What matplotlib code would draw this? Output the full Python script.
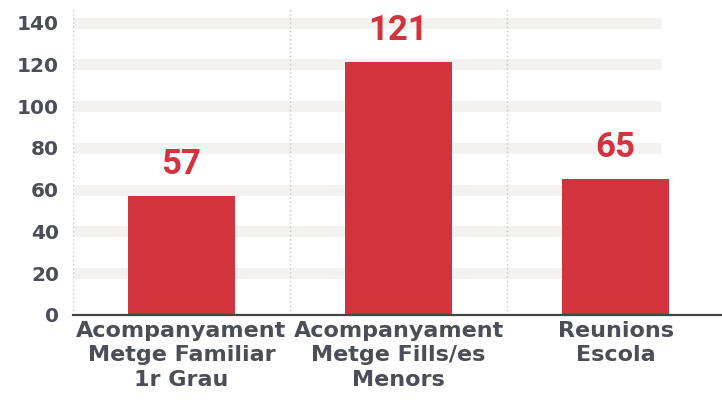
import matplotlib
matplotlib.use("Agg")
import matplotlib.pyplot as plt

# data
categories = ["Acompanyament\nMetge Familiar\n1r Grau",
              "Acompanyament\nMetge Fills/es\nMenors",
              "Reunions\nEscola"]
values = [57, 121, 65]
y_ticks = [0, 20, 40, 60, 80, 100, 120, 140]

BAR_COLOR = "#d1343d"
TEXT_COLOR = "#4b4e56"
BAND_COLOR = "#f3f2f0"

fig = plt.figure(figsize=(7.22, 4.0), dpi=100)
ax = fig.add_axes([0.101, 0.2125, 0.899, 0.765])

x = list(range(len(categories)))

# thick light bands as grid
for t in y_ticks[1:]:
    ax.hlines(t, -0.5, 2.21, color=BAND_COLOR, lw=8, zorder=0)

# dotted separators between categories
for b in [-0.5, 0.5, 1.5]:
    ax.axvline(b, color="#c4c4c4", lw=1, ls=(0, (1, 2)), zorder=1)

ax.bar(x, values, width=0.49, color=BAR_COLOR, zorder=2)

for xi, v in zip(x, values):
    ax.annotate(f"{v}", (xi, v), xytext=(0, 11), textcoords="offset points",
                ha="center", va="bottom", fontsize=25, fontweight="bold",
                color=BAR_COLOR, family="Roboto")

ax.set_xlim(-0.5, 2.49)
ax.set_ylim(0, 146.5)
ax.set_yticks(y_ticks)
ax.set_xticks(x)
ax.set_xticklabels(categories, linespacing=1.3)

for s in ["top", "right", "left"]:
    ax.spines[s].set_visible(False)
ax.spines["bottom"].set_color("#444444")
ax.spines["bottom"].set_linewidth(1.6)
ax.spines["bottom"].set_zorder(3)

ax.tick_params(axis="y", length=0, labelsize=14.5, labelcolor=TEXT_COLOR, pad=10)
ax.tick_params(axis="x", length=0, labelsize=16, labelcolor=TEXT_COLOR, pad=4)
for lab in ax.get_xticklabels() + ax.get_yticklabels():
    lab.set_fontweight("bold")

fig.savefig("out.png", dpi=100)
